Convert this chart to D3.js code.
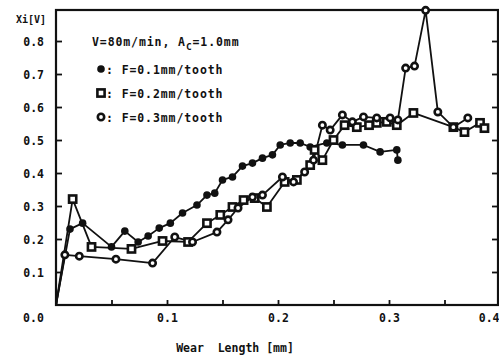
<!DOCTYPE html>
<html>
<head>
<meta charset="utf-8">
<script src="https://cdn.jsdelivr.net/npm/d3@7"></script>
<style>
  html, body { margin: 0; padding: 0; background: #fff; }
  svg { display: block; }
  text { font-family: "DejaVu Sans Mono", monospace; font-weight: bold; fill: #111; }
</style>
</head>
<body>
<svg id="chart" width="499" height="357"></svg>
<script>
// ---- data (wear length [mm], Xi [V]) ----
const seriesF01X = [0, 0.0126, 0.024, 0.050, 0.062, 0.074, 0.083, 0.093, 0.103, 0.114, 0.127, 0.136, 0.143, 0.150, 0.159, 0.168, 0.177, 0.186, 0.195, 0.202, 0.211, 0.220, 0.229, 0.244, 0.258, 0.277, 0.292, 0.307, 0.308];
const seriesF01Y = [0, 0.230, 0.248, 0.176, 0.224, 0.191, 0.209, 0.233, 0.248, 0.279, 0.303, 0.333, 0.339, 0.379, 0.388, 0.421, 0.430, 0.445, 0.455, 0.485, 0.491, 0.491, 0.479, 0.491, 0.485, 0.485, 0.464, 0.470, 0.439];

const seriesF02X = [0, 0.015, 0.032, 0.068, 0.096, 0.119, 0.136, 0.148, 0.159, 0.169, 0.179, 0.190, 0.206, 0.217, 0.229, 0.233, 0.240, 0.250, 0.260, 0.271, 0.282, 0.289, 0.298, 0.307, 0.322, 0.358, 0.368, 0.382, 0.386];
const seriesF02Y = [0, 0.321, 0.176, 0.170, 0.194, 0.191, 0.248, 0.273, 0.297, 0.318, 0.324, 0.297, 0.373, 0.379, 0.424, 0.470, 0.439, 0.500, 0.545, 0.539, 0.545, 0.552, 0.555, 0.545, 0.582, 0.539, 0.524, 0.552, 0.536];

const seriesF03X = [0, 0.008, 0.021, 0.054, 0.087, 0.107, 0.123, 0.145, 0.155, 0.164, 0.177, 0.186, 0.204, 0.214, 0.224, 0.232, 0.240, 0.247, 0.258, 0.267, 0.277, 0.289, 0.301, 0.308, 0.315, 0.323, 0.333, 0.344, 0.358, 0.371];
const seriesF03Y = [0, 0.152, 0.148, 0.139, 0.127, 0.206, 0.191, 0.221, 0.258, 0.294, 0.327, 0.333, 0.388, 0.373, 0.403, 0.439, 0.545, 0.530, 0.576, 0.555, 0.570, 0.567, 0.567, 0.561, 0.718, 0.724, 0.893, 0.585, 0.539, 0.567];

const xTickValues = [0, 0.05, 0.1, 0.15, 0.2, 0.25, 0.3, 0.35, 0.4];
const xTickLabels = ["0.0", "0.1", "0.2", "0.3", "0.4"];
const yTickValues = [0.1, 0.2, 0.3, 0.4, 0.5, 0.6, 0.7, 0.8];
const yTickLabels = ["0.1", "0.2", "0.3", "0.4", "0.5", "0.6", "0.7", "0.8"];

const yAxisTitle = "Xi[V]";
const xAxisTitle = "Wear  Length [mm]";
const conditionText = ["V=80m/min, A", "C", "=1.0mm"];
const legendLabels = [": F=0.1mm/tooth", ": F=0.2mm/tooth", ": F=0.3mm/tooth"];
const legendMarkers = ["fill", "square", "open"];

// ---- layout ----
const svg = d3.select("#chart");
const mLeft = 56, mRight = 498, mTop = 10, mBottom = 305;
const x = d3.scaleLinear().domain([0, 0.4]).range([mLeft, 500]);
const y = d3.scaleLinear().domain([0, 0.894]).range([mBottom, mTop]);

// axes
const fmtX = d => {
  const i = Math.round(d * 10);
  return Math.abs(d * 10 - i) < 1e-6 ? xTickLabels[i] : "";
};
const gx = svg.append("g").attr("transform", `translate(0,${mBottom})`)
  .call(d3.axisBottom(x).tickValues(xTickValues).tickFormat(fmtX).tickSizeInner(-5).tickSizeOuter(0).tickPadding(9));
gx.select(".domain").remove();
gx.selectAll("line").attr("stroke", "#111").attr("stroke-width", 1.8);
gx.selectAll("text").style("font-size", "11.5px").attr("fill", "#111");
gx.selectAll(".tick").filter(d => d === 0).select("text").attr("x", -23);
gx.selectAll(".tick").filter(d => Math.abs(d - 0.4) < 1e-9).select("text")
  .attr("text-anchor", "end").attr("x", -1);

const yLabel = d => yTickLabels[Math.round(d * 10) - 1];
const gy = svg.append("g").attr("transform", `translate(${mLeft},0)`)
  .call(d3.axisLeft(y).tickValues(yTickValues).tickFormat(yLabel).tickSizeInner(-6).tickSizeOuter(0).tickPadding(12));
gy.select(".domain").remove();
gy.selectAll("line").attr("stroke", "#111").attr("stroke-width", 1.8);
gy.selectAll("text").style("font-size", "11.5px").attr("fill", "#111").attr("dy", "0.42em");

const gyr = svg.append("g").attr("transform", `translate(${mRight},0)`)
  .call(d3.axisRight(y).tickValues(yTickValues).tickFormat("").tickSizeInner(-6).tickSizeOuter(0));
gyr.select(".domain").remove();
gyr.selectAll("line").attr("stroke", "#111").attr("stroke-width", 1.8);

// frame
svg.append("rect").attr("x", mLeft).attr("y", mTop)
  .attr("width", mRight - mLeft).attr("height", mBottom - mTop)
  .attr("fill", "none").attr("stroke", "#111").attr("stroke-width", 2.2);

// titles
svg.append("text").attr("x", 16).attr("y", 23).style("font-size", "10px").text(yAxisTitle);
svg.append("text").attr("x", 235).attr("y", 352).attr("text-anchor", "middle")
  .style("font-size", "11.5px").attr("xml:space", "preserve").text(xAxisTitle);

// condition text
const cond = svg.append("text").attr("x", 92).attr("y", 46).style("font-size", "11.5px").style("letter-spacing", "0.9px");
cond.append("tspan").text(conditionText[0]);
cond.append("tspan").attr("dy", 4).style("font-size", "9.5px").text(conditionText[1]);
cond.append("tspan").attr("dy", -4).text(conditionText[2]);

// series
const series = [
  { xs: seriesF01X, ys: seriesF01Y, marker: "fill" },
  { xs: seriesF02X, ys: seriesF02Y, marker: "square" },
  { xs: seriesF03X, ys: seriesF03Y, marker: "open" }
];
const line = d3.line().x(d => x(d[0])).y(d => y(d[1]));

function drawMarker(g, m, cx, cy) {
  if (m === "fill") {
    g.append("circle").attr("cx", cx).attr("cy", cy).attr("r", 3.8).attr("fill", "#111");
  } else if (m === "square") {
    g.append("rect").attr("x", cx - 3.6).attr("y", cy - 3.6).attr("width", 7.2).attr("height", 7.2)
      .attr("fill", "#fff").attr("stroke", "#111").attr("stroke-width", 2.6);
  } else {
    g.append("circle").attr("cx", cx).attr("cy", cy).attr("r", 3.2)
      .attr("fill", "#fff").attr("stroke", "#111").attr("stroke-width", 2.6);
  }
}

const plot = svg.append("g");
series.forEach(s => {
  const pts = s.xs.map((v, i) => [v, s.ys[i]]);
  plot.append("path").datum(pts).attr("d", line)
    .attr("fill", "none").attr("stroke", "#111").attr("stroke-width", 1.8).attr("stroke-linejoin", "round");
});
series.forEach(s => {
  const g = plot.append("g");
  s.xs.forEach((v, i) => { if (i > 0) drawMarker(g, s.marker, x(v), y(s.ys[i])); });
});

// legend
const legendY = [70, 94, 118];
legendLabels.forEach((lab, i) => {
  const g = svg.append("g");
  drawMarker(g, legendMarkers[i], 101, legendY[i] - 1);
  g.append("text").attr("x", 106).attr("y", legendY[i] + 4).style("font-size", "11.5px")
    .style("letter-spacing", "0.9px").text(lab);
});
</script>
</body>
</html>
